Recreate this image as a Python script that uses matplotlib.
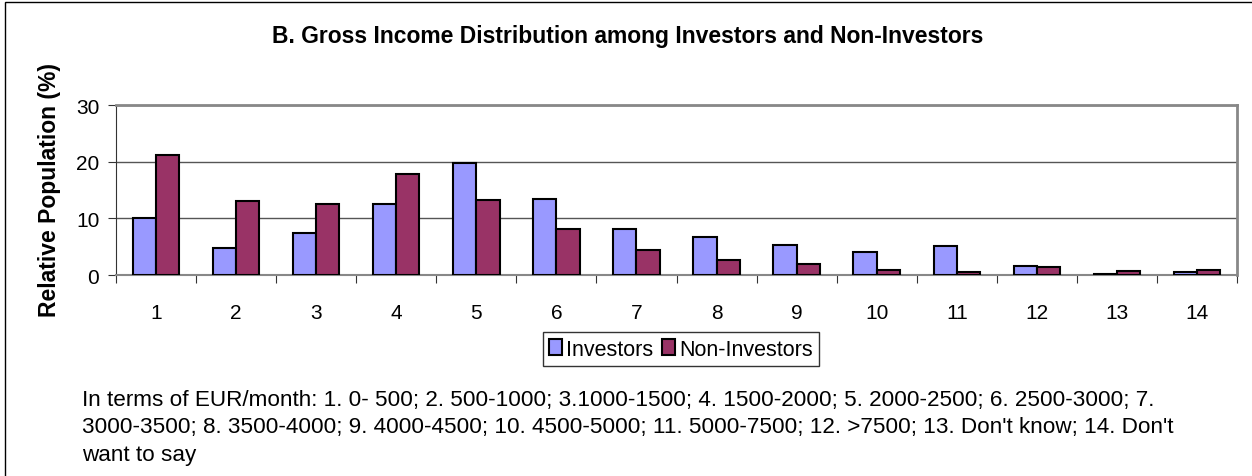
import matplotlib.pyplot as plt
import numpy as np

plt.rcParams['font.family'] = ['Liberation Sans', 'DejaVu Sans']

# Income classes (see footnote) and the share of each group (%)
categories = ['1', '2', '3', '4', '5', '6', '7', '8', '9', '10', '11', '12', '13', '14']
investors = [10.1, 4.7, 7.5, 12.6, 19.7, 13.4, 8.1, 6.7, 5.3, 4.1, 5.1, 1.6, 0.2, 0.6]
non_investors = [21.1, 13.1, 12.5, 17.9, 13.3, 8.2, 4.5, 2.6, 1.9, 0.9, 0.6, 1.5, 0.7, 0.8]

footnote = ("In terms of EUR/month: 1. 0- 500; 2. 500-1000; 3.1000-1500; 4. 1500-2000; "
            "5. 2000-2500; 6. 2500-3000; 7.\n3000-3500; 8. 3500-4000; 9. 4000-4500; "
            "10. 4500-5000; 11. 5000-7500; 12. >7500; 13. Don't know; 14. Don't\nwant to say")

W, H = 1252, 477
fig = plt.figure(figsize=(W / 100, H / 100), dpi=100)
ax = fig.add_axes([116 / W, 1 - 276 / H, (1237 - 116) / W, (276 - 106) / H])

x = np.arange(len(categories))
bw = 0.29
ax.bar(x - bw / 2, investors, bw, color='#9999FF', edgecolor='black', linewidth=1.5,
       label='Investors', zorder=3)
ax.bar(x + bw / 2, non_investors, bw, color='#993366', edgecolor='black', linewidth=1.5,
       label='Non-Investors', zorder=3)

ax.set_xlim(-0.5, len(categories) - 0.5)
ax.set_ylim(0, 30)
ax.set_yticks([0, 10, 20, 30])
ax.yaxis.grid(True, color='#555555', linewidth=1, zorder=0)

# category labels centered, ticks on the boundaries
ax.set_xticks(np.arange(len(categories) + 1) - 0.5)
ax.set_xticklabels([])
ax.set_xticks(x, minor=True)
ax.set_xticklabels(categories, minor=True)
ax.tick_params(axis='x', which='minor', length=0, labelsize=15, pad=20)
ax.tick_params(axis='x', which='major', length=6, color='#333333', direction='out')
ax.tick_params(axis='y', labelsize=15, length=6, pad=6, direction='out', color='#333333')

for side in ['top', 'right']:
    ax.spines[side].set_color('#888888')
    ax.spines[side].set_linewidth(2)
ax.spines['left'].set_color('#333333')
ax.spines['bottom'].set_color('#888888')
ax.spines['bottom'].set_linewidth(1.5)

fig.text(50 / W, 1 - 190 / H, 'Relative Population (%)', rotation=90,
         ha='center', va='center', fontsize=16.5, fontweight='bold')
fig.text(628 / W, 1 - 37 / H, 'B. Gross Income Distribution among Investors and Non-Investors',
         ha='center', va='center', fontsize=16.5, fontweight='bold')

leg = fig.legend(loc='center', bbox_to_anchor=(681 / W, 1 - 350 / H), ncol=2, fontsize=15.5,
                 frameon=True, fancybox=False, edgecolor='black', handlelength=0.6,
                 handleheight=0.7, handletextpad=0.2, columnspacing=0.4,
                 borderpad=0.3, borderaxespad=0)
leg.get_frame().set_linewidth(1)

fig.text(82 / W, 1 - 390 / H, footnote, ha='left', va='top', fontsize=16.2, linespacing=1.4)

# outer chart border
fig.patches.append(plt.Rectangle((5 / W, -0.01), 1.2, 1 - 3 / H + 0.01, transform=fig.transFigure,
                                 fill=False, edgecolor='black', linewidth=1))

fig.savefig('out.png', dpi=100)
